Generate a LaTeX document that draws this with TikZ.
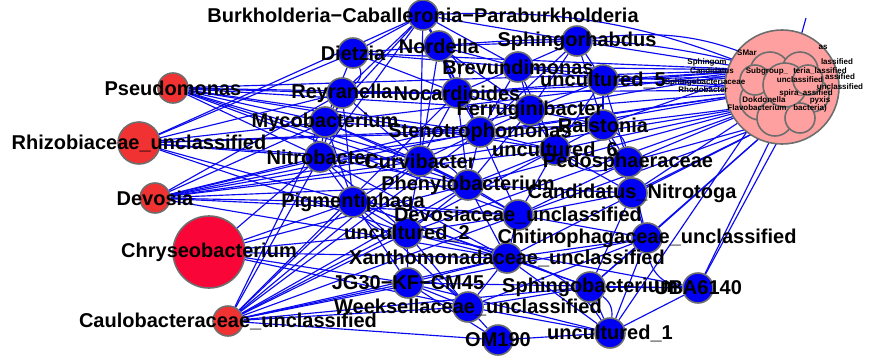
\documentclass[tikz,border=0pt]{standalone}
\usepackage{fontspec}
\setmainfont{Liberation Sans}
\usetikzlibrary{backgrounds}
\definecolor{edgeblue}{RGB}{10,10,240}
\definecolor{nodeblue}{RGB}{0,0,245}
\definecolor{rimgray}{RGB}{110,110,110}
\definecolor{redA}{RGB}{240,50,50}
\definecolor{redB}{RGB}{250,5,55}
\definecolor{clpink}{RGB}{255,160,160}
\begin{document}
\begin{tikzpicture}[x=1pt,y=-1pt,
  edge/.style={draw=edgeblue,line width=1.15pt},
  vnode/.style={circle,draw=rimgray,line width=1.6pt,inner sep=0pt},
  vb/.style={vnode,fill=nodeblue,minimum size=30pt},
  lab/.style={font=\fontsize{20}{20}\selectfont\bfseries,text=black,inner sep=0pt},
  tiny/.style={font=\fontsize{8}{8}\selectfont\bfseries,text=black,inner sep=0pt}]
\useasboundingbox (0,0) rectangle (869,356);

% red vertices
\node[vnode,fill=redA,minimum size=30pt] (pse) at (173,88) {};
\node[vnode,fill=redA,minimum size=42pt] (rhi) at (139,143) {};
\node[vnode,fill=redA,minimum size=30pt] (dev) at (155,198) {};
\node[vnode,fill=redB,minimum size=72pt] (chr) at (209,252) {};
\node[vnode,fill=redA,minimum size=30pt] (cau) at (228,321) {};

% blue vertices
\foreach \n/\x/\y in {bur/423/15, die/353/53, nor/439/46, sph/577/41, bre/518/67,
  u5/603/80, rey/342/93, noc/457/93, fer/530/110, ral/603/125, myc/325/122,
  ste/480/132, u6/555/150, ped/628/162, nit/320/157, cur/420/161, phe/468/185,
  can/632/193, pig/353/202, dvu/518/215, u2/407/233, chi/647/238, xan/507/258,
  jg/408/283, spb/590/287, uba/698/288, wee/468/307, u1/610/333, om/498/340}
  \node[vb] (\n) at (\x,\y) {};

% points inside the pink cluster that edges run to
\foreach \n/\x/\y in {k1/760/70, k2/775/90, k3/790/75, k4/765/105, k5/800/100,
  k6/780/120, k7/810/85}
  \coordinate (\n) at (\x,\y);
\coordinate (tp) at (806,18);

% edges
\begin{scope}[on background layer]
\foreach \a/\b in {
  pse/myc, pse/nit, pse/rey, pse/ste, pse/cur, pse/phe, pse/u6, pse/dvu, pse/noc, pse/fer, pse/k1,
  rhi/die, rhi/bur, rhi/rey, rhi/myc, rhi/nit, rhi/ste, rhi/cur, rhi/pig, rhi/u2, rhi/ral,
  dev/myc, dev/nit, dev/pig, dev/rey, dev/cur, dev/ste, dev/u6, dev/phe, dev/dvu, dev/xan, dev/fer, dev/k2,
  chr/pig, chr/u2, chr/xan, chr/jg, chr/wee, chr/nit, chr/phe,
  cau/pig, cau/u2, cau/jg, cau/xan, cau/wee, cau/cur, cau/phe, cau/dvu, cau/chi, cau/u6,
  cau/ste, cau/nit, cau/myc, cau/om, cau/spb, cau/noc,
  bur/die, bur/nor, bur/rey, bur/noc, bur/sph, bur/bre, bur/myc, bur/nit, bur/ste, bur/cur,
  die/nor, die/noc, die/myc, die/bre,
  nor/noc, nor/bre, nor/ste, nor/sph, nor/fer, nor/cur,
  sph/bre, sph/u5, sph/fer, sph/ral, sph/ste,
  bre/u5, bre/fer, bre/noc, bre/ste, bre/u6,
  u5/ral, u5/fer, u5/u6, u5/ped,
  rey/myc, rey/noc, rey/nit, rey/cur, rey/pig,
  noc/fer, noc/ste, noc/cur, noc/phe,
  fer/ste, fer/ral, fer/u6, fer/phe,
  ral/u6, ral/ped, ral/can,
  myc/nit, myc/cur, myc/ste, myc/pig, myc/phe,
  ste/u6, ste/cur, ste/phe, ste/dvu,
  u6/ped, u6/phe, u6/dvu, u6/can,
  ped/can, ped/dvu, ped/chi,
  nit/cur, nit/pig, nit/u2, nit/phe, nit/xan,
  cur/phe, cur/pig, cur/u2, cur/dvu,
  phe/dvu, phe/u2, phe/can, phe/xan,
  can/chi, can/dvu, can/spb,
  pig/u2, pig/jg, pig/xan, pig/wee, pig/dvu, pig/spb,
  dvu/xan, dvu/chi, dvu/u2,
  u2/xan, u2/jg, u2/wee, u2/uba,
  chi/xan, chi/spb, chi/u1,
  xan/jg, xan/wee, xan/spb, xan/u1,
  jg/wee, jg/om, jg/uba, jg/u1,
  spb/u1, spb/uba, spb/wee,
  uba/u1, wee/om, wee/u1, wee/chi, om/u1,
  die/k1, rey/k2, noc/k1, noc/k3, myc/k1, ste/k2, nit/k2, cur/k4, phe/k4, dvu/k6,
  bre/k1, bre/k2, u5/k1, u5/k3, u5/k2, ral/k4, ral/k1, fer/k2, fer/k1, u6/k4,
  ped/k4, ped/k6, can/k6, can/k4, chi/k6, uba/k5, uba/k6, spb/k6, u1/k4,
  xan/k6, u2/k4, sph/k1, k3/tp}
  \draw[edge] (\a) -- (\b);
\foreach \a/\b/\c in {bur/k1/12, nor/k3/10, sph/k3/18, die/rey/40, nor/noc/30,
  chi/uba/-40, spb/u1/30, u1/xan/-20, jg/wee/25, pig/u2/-25, cur/phe/20,
  u6/ped/-30, ral/ped/25, myc/nit/-30}
  \draw[edge] (\a) to[bend left=\c] (\b);
\end{scope}

% pink cluster of overlapping vertices
\node[vnode,fill=clpink,minimum size=114pt] (clu) at (782,87) {};
\foreach \n/\x/\y/\d in {s1/770/72/40, s2/800/70/36, s3/760/100/40, s4/790/100/40,
  s5/812/95/34, s6/775/118/36, s7/800/118/30, s8/755/80/30, s9/785/85/44, s10/808/80/30}
  \node[vnode,fill=clpink,minimum size=\d pt] (\n) at (\x,\y) {};

% labels inside the cluster
\foreach \n/\x/\y/\t in {t1/823/47/as, t2/747/53/SMar, t3/707/62/Sphingom,
  t4/837/62/lassified, t5/767/71/Subgroup\_, t6/712/71/Candidatus,
  t7/705/82/Sphingobacteriaceae, t8/703/90/Rhodobacter, t9/820/71/teria\_lassified,
  t10/840/77/assified, t11/840/87/unclassified, t12/800/80/unclassified,
  t13/764/100/Dokdonella, t14/820/100/pyxis, t15/757/108/Flavobacterium,
  t16/810/108/bacteria), t17/806/93/spira\_assified}
  \node[tiny] (\n) at (\x,\y) {\t};

% vertex labels
\foreach \n/\t in {bur/Burkholderia−Caballeronia−Paraburkholderia, die/Dietzia,
  nor/Nordella, sph/Sphingorhabdus, bre/Brevundimonas, u5/uncultured\_5,
  pse/Pseudomonas, rey/Reyranella, noc/Nocardioides, fer/Ferruginibacter,
  ral/Ralstonia, myc/Mycobacterium, rhi/Rhizobiaceae\_unclassified,
  ste/Stenotrophomonas, u6/uncultured\_6, ped/Pedosphaeraceae, nit/Nitrobacter,
  cur/Curvibacter, dev/Devosia, phe/Phenylobacterium, can/Candidatus\_Nitrotoga,
  pig/Pigmentiphaga, dvu/Devosiaceae\_unclassified, u2/uncultured\_2,
  chi/Chitinophagaceae\_unclassified, chr/Chryseobacterium,
  xan/Xanthomonadaceae\_unclassified, jg/JG30−KF−CM45, spb/Sphingobacterium,
  uba/UBA6140, wee/Weeksellaceae\_unclassified, cau/Caulobacteraceae\_unclassified,
  u1/uncultured\_1, om/OM190}
  \node[lab] (l-\n) at (\n) {\t};
\end{tikzpicture}
\end{document}
